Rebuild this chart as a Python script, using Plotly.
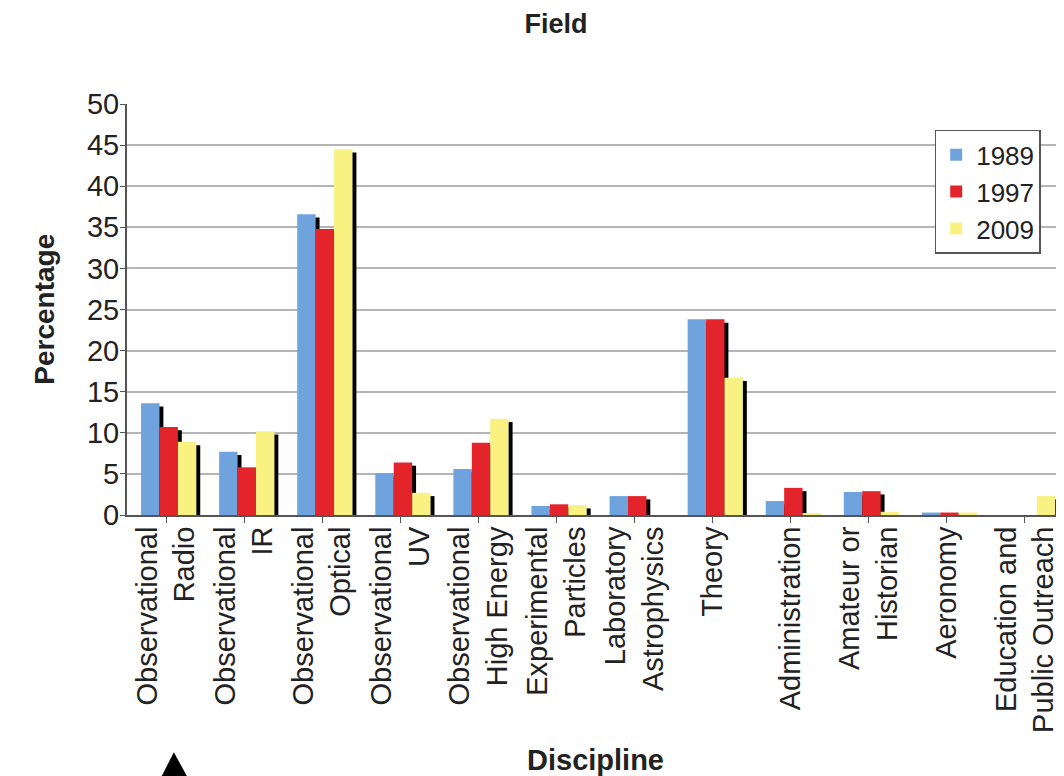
import plotly.graph_objects as go

categories = ["Observational<br>Radio", "Observational<br>IR", "Observational<br>Optical",
              "Observational<br>UV", "Observational<br>High Energy", "Experimental<br>Particles",
              "Laboratory<br>Astrophysics", "Theory", "Administration", "Amateur or<br>Historian",
              "Aeronomy", "Education and<br>Public Outreach"]
years = ["1989", "1997", "2009"]
v1989 = [13.6, 7.7, 36.6, 5.1, 5.6, 1.1, 2.3, 23.8, 1.7, 2.8, 0.3, 0.0]
v1997 = [10.7, 5.8, 34.8, 6.4, 8.8, 1.3, 2.3, 23.8, 3.3, 2.9, 0.3, 0.0]
v2009 = [8.9, 10.2, 44.5, 2.7, 11.7, 1.2, 0.0, 16.7, 0.2, 0.4, 0.3, 2.3]
series = [v1989, v1997, v2009]
colors = ["#6fa3de", "#e3252b", "#f9f283"]

idx = list(range(len(categories)))
fig = go.Figure()
bw = 0.236
offsets = [-0.32, -0.084, 0.152]
for name, vals, col, off in zip(years, series, colors, offsets):
    shadow = [max(v - 0.4, 0) for v in vals]
    fig.add_trace(go.Bar(x=idx, y=shadow, width=bw, offset=off + 0.05,
                         marker=dict(color="black", line=dict(width=0)),
                         showlegend=False, hoverinfo="skip"))
    fig.add_trace(go.Bar(x=idx, y=vals, width=bw, offset=off, name=name,
                         marker=dict(color=col, line=dict(width=0))))

font = "Liberation Sans, Arial, sans-serif"
fig.update_layout(
    barmode="overlay",
    width=1056, height=768,
    margin=dict(l=119, r=0, t=96, b=261, autoexpand=False),
    paper_bgcolor="white", plot_bgcolor="white",
    font=dict(family=font, size=29, color="#222"),
    title=dict(text="<b>Field</b>", x=0.519, xref="container", y=0.992, yref="container",
               xanchor="center", yanchor="top", pad=dict(t=0, b=0),
               font=dict(size=27, color="#222")),
    legend=dict(x=0.862, y=0.937, xanchor="left", yanchor="top",
                bordercolor="#555", borderwidth=1.5, bgcolor="white",
                font=dict(size=26), tracegroupgap=0, itemwidth=30),
    xaxis=dict(range=[-0.5, 11.5], tickmode="array", tickvals=idx, ticktext=categories,
               tickangle=-90, showgrid=False, showline=True, linecolor="#555", linewidth=2,
               ticks="outside", tickson="boundaries", ticklen=6, tickcolor="#555",
               tickfont=dict(size=29), automargin=False, ticklabelstandoff=-8),
    yaxis=dict(range=[0, 50], dtick=5, showgrid=True, gridcolor="#b5b5b5", gridwidth=2,
               showline=True, linecolor="#555", linewidth=2, ticks="outside", ticklen=5,
               tickcolor="#555", zeroline=False, tickfont=dict(size=29), automargin=False,
               ticklabelstandoff=-5),
    annotations=[
        dict(text="<b>Percentage</b>", x=-0.107, y=0.5, xref="paper", yref="paper",
             textangle=-90, showarrow=False, font=dict(size=28)),
        dict(text="<b>Discipline</b>", x=0.5, y=-0.597, xref="paper", yref="paper",
             showarrow=False, font=dict(size=29), yanchor="middle"),
    ],
    shapes=[dict(type="path", xref="paper", yref="paper",
                 path="M 0.036 -0.64 L 0.050 -0.577 L 0.065 -0.64 Z",
                 fillcolor="black", line=dict(width=0))],
)
fig.write_html("out.html")
